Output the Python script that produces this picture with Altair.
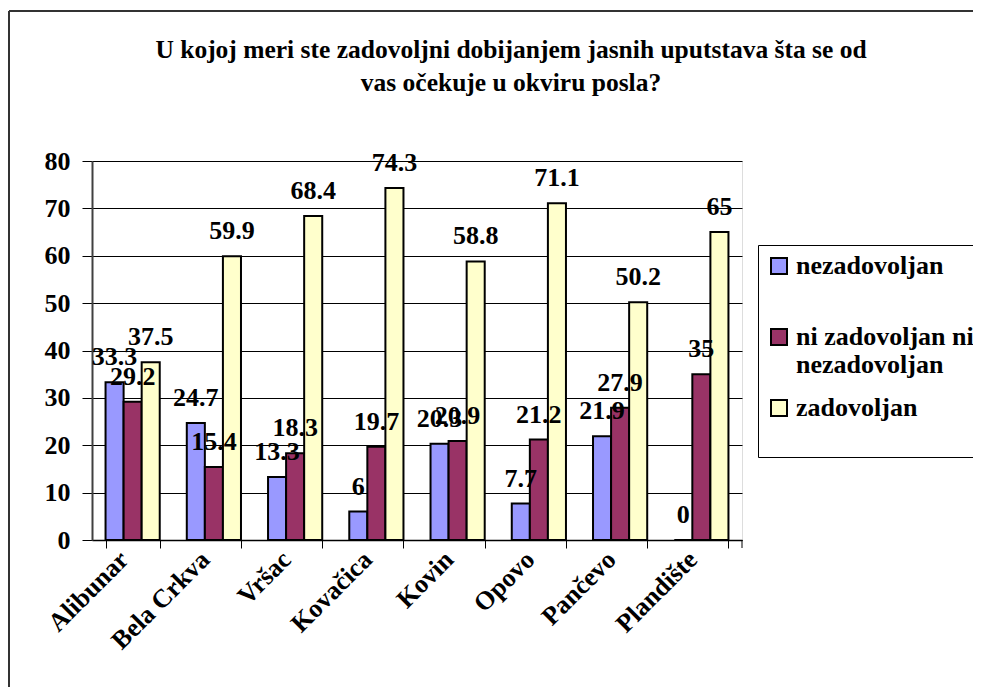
import altair as alt
import pandas as pd

categories = ["Alibunar", "Bela Crkva", "Vršac", "Kovačica", "Kovin", "Opovo", "Pančevo", "Plandište"]
series = ["nezadovoljan", "ni zadovoljan ni nezadovoljan", "zadovoljan"]
nezadovoljan = [33.3, 24.7, 13.3, 6, 20.3, 7.7, 21.9, 0]
ni_ni = [29.2, 15.4, 18.3, 19.7, 20.9, 21.2, 27.9, 35]
zadovoljan = [37.5, 59.9, 68.4, 74.3, 58.8, 71.1, 50.2, 65]
colors = ["#9999FF", "#993366", "#FFFFCC"]
title_lines = ["U kojoj meri ste zadovoljni dobijanjem jasnih uputstava šta se od",
               "vas očekuje u okviru posla?"]

rows = []
for s, vals in zip(series, [nezadovoljan, ni_ni, zadovoljan]):
    for c, v in zip(categories, vals):
        rows.append({"cat": c, "series": s, "value": v, "label": f"{v:g}"})
df = pd.DataFrame(rows)

FONT = "Liberation Serif"
FS = 26
W, H = 650, 379
PL, PT, PR, PB = 84, 153, 231, 147

legend_expr = ("datum.label == 'ni zadovoljan ni nezadovoljan' ? ['ni zadovoljan ni', 'nezadovoljan'] "
               ": [datum.label, ' ']")

x_enc = alt.X("cat:N", sort=categories, title=None,
              scale=alt.Scale(paddingInner=0.333, paddingOuter=0.1667),
              axis=alt.Axis(labelAngle=-45, labelFont=FONT, labelFontSize=FS,
                            labelFontWeight="bold", labelColor="black",
                            tickBand="extent", tickSize=8, tickColor="black",
                            domainColor="black", domainWidth=1.5, labelPadding=-2,
                            labelOffset=-18, grid=False))
xo_enc = alt.XOffset("series:N", sort=series)

base = alt.Chart(df)

bars = base.mark_bar(stroke="black", strokeWidth=2).encode(
    x=x_enc,
    xOffset=xo_enc,
    y=alt.Y("value:Q", title=None,
            scale=alt.Scale(domain=[0, 80], nice=False),
            axis=alt.Axis(values=list(range(0, 81, 10)), labelFont=FONT, labelFontSize=FS,
                          labelFontWeight="bold", labelColor="black", tickSize=10,
                          tickColor="black", labelPadding=12, domainColor="#404040",
                          domainWidth=2, grid=True, gridColor="black", gridWidth=1,
                          gridOpacity=1)),
    color=alt.Color("series:N", sort=series,
                    scale=alt.Scale(domain=series, range=colors),
                    legend=alt.Legend(title=None, orient="none", legendX=666, legendY=84,
                                      strokeColor="black", fillColor="white", padding=8,
                                      symbolType="square", symbolSize=256,
                                      symbolStrokeColor="black", symbolStrokeWidth=2,
                                      labelFont=FONT, labelFontSize=FS, labelFontWeight="bold",
                                      labelColor="black", labelLimit=400, rowPadding=17,
                                      labelOffset=4, labelExpr=legend_expr)),
)

labels = base.mark_text(font=FONT, fontSize=FS, fontWeight="bold", color="black",
                        baseline="alphabetic", dy=-17).encode(
    x=alt.X("cat:N", sort=categories),
    xOffset=xo_enc,
    y="value:Q",
    text="label:N",
)

deco_df = pd.DataFrame({"k": [0]})
end_tick = alt.Chart(deco_df).mark_rule(color="black", strokeWidth=1).encode(
    x=alt.value(W), y=alt.value(H), y2=alt.value(H + 8))
left_border = alt.Chart(deco_df).mark_rule(color="#333333", strokeWidth=2).encode(
    x=alt.value(-PL + 1), y=alt.value(-PT + 3), y2=alt.value(H + PB))
top_border = alt.Chart(deco_df).mark_rule(color="#333333", strokeWidth=2).encode(
    x=alt.value(-PL + 1), x2=alt.value(W + PR), y=alt.value(-PT + 3))

chart = alt.layer(bars, labels, end_tick, left_border, top_border).properties(
    width=W, height=H,
    padding={"left": PL, "top": PT, "right": PR, "bottom": PB},
    autosize=alt.AutoSizeParams(type="none"),
    title=alt.TitleParams(text=title_lines, font=FONT, fontSize=25.5, fontWeight="bold",
                          color="black", anchor="middle", dx=94, dy=86, lineHeight=33, offset=0),
).configure_view(fill="#C0C0C0", stroke="#808080", strokeWidth=2
).configure(background="white")

chart.save("out.html", embed_options={"renderer": "svg", "actions": False})
